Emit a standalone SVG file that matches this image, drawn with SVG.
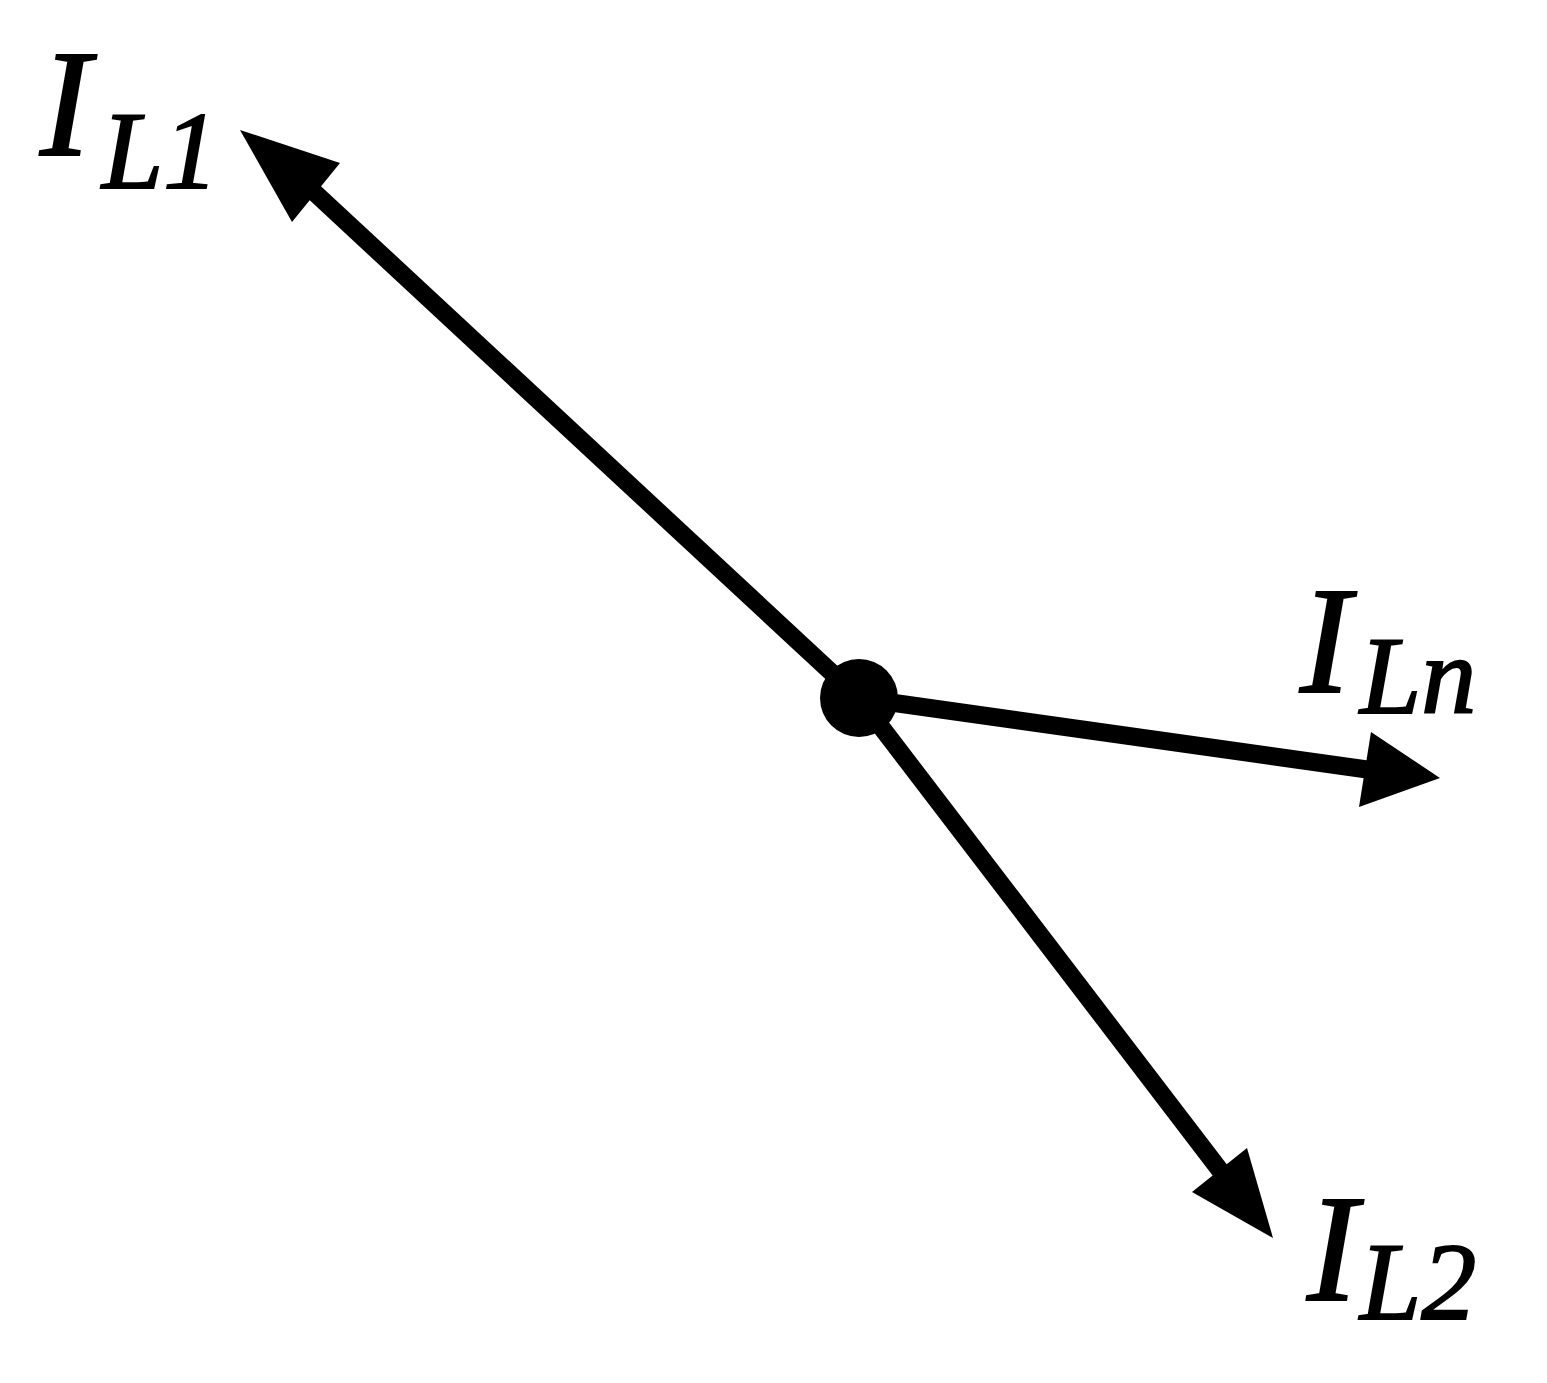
<svg xmlns="http://www.w3.org/2000/svg" width="1547" height="1383" viewBox="0 0 1547 1383">
<style>
.ln{stroke:#000;stroke-width:18;fill:none}
.hd{fill:#000}
.t{font-family:"Liberation Serif","Times New Roman",serif;font-style:italic;fill:#000;stroke:#000;stroke-width:2}
.big{font-size:152px}
.sub{font-size:110px}
</style>
<rect width="1547" height="1383" fill="#fff"/>
<g id="connectors">
<line class="ln" x1="859" y1="698" x2="300" y2="179"/>
<polygon class="hd" points="240,130 340,163 292,222"/>
<line class="ln" x1="859" y1="698" x2="1385" y2="772"/>
<polygon class="hd" points="1440,778 1371,732 1359,807"/>
<line class="ln" x1="859" y1="698" x2="1232" y2="1186"/>
<polygon class="hd" points="1273,1238 1247,1148 1192,1192"/>
</g>
<g id="node-center"><circle cx="859" cy="698" r="39" fill="#000"/></g>
<g id="label-IL1"><text class="t big" x="40" y="155">I</text><text class="t sub" x="102" y="188">L1</text></g>
<g id="label-ILn"><text class="t big" x="1300" y="692">I</text><text class="t sub" x="1360" y="713">Ln</text></g>
<g id="label-IL2"><text class="t big" x="1307" y="1300">I</text><text class="t sub" x="1360" y="1319">L2</text></g>
</svg>
